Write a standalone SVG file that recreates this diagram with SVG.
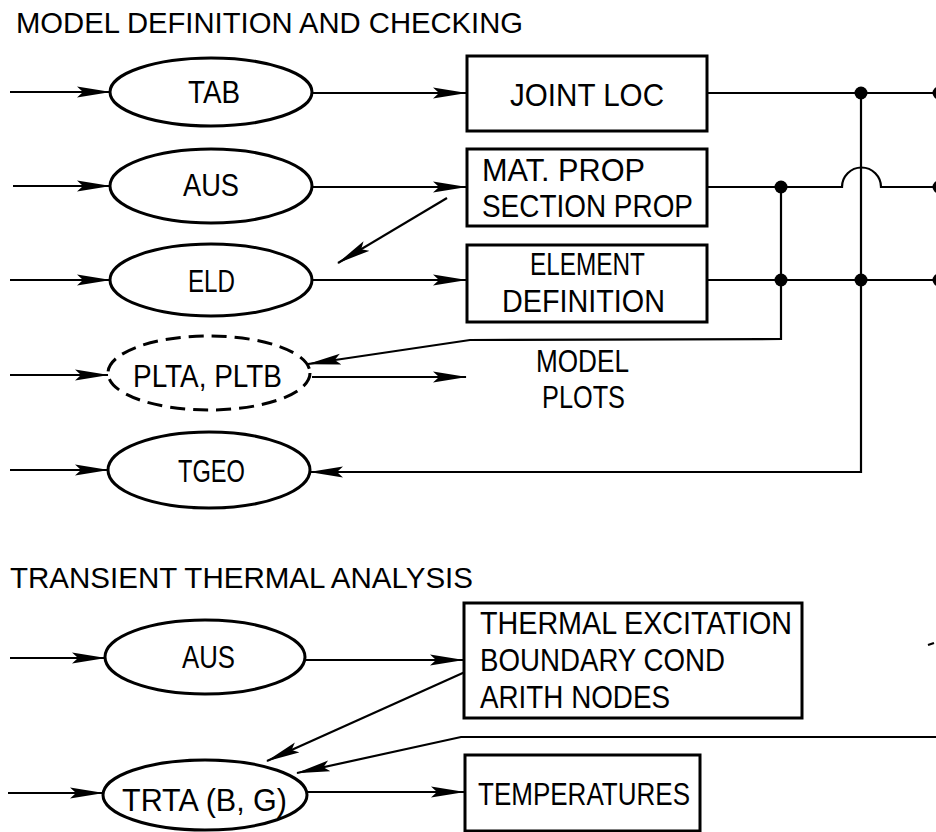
<svg xmlns="http://www.w3.org/2000/svg" width="936" height="832" viewBox="0 0 936 832">
<style>
text{font-family:"Liberation Sans",Arial,sans-serif;font-size:31px;fill:#000}
.title{font-size:29px}
.node{fill:#fff;stroke:#000;stroke-width:3}
.dash{stroke-dasharray:15 8}
.c{fill:none;stroke:#000;stroke-width:2.2}
.a{marker-end:url(#ah)}
.dot{fill:#000}
</style>
<defs>
<marker id="ah" viewBox="0 0 34 12" refX="33" refY="6" markerWidth="34" markerHeight="12" markerUnits="userSpaceOnUse" orient="auto">
<path d="M0,0.5 L34,6 L0,11.5 L6,6 z" fill="#000"/>
</marker>
</defs>
<text class="title" x="16" y="33" textLength="507" lengthAdjust="spacingAndGlyphs">MODEL DEFINITION AND CHECKING</text>
<text class="title" x="10" y="588" textLength="463" lengthAdjust="spacingAndGlyphs">TRANSIENT THERMAL ANALYSIS</text>

<g id="connectors">
<path class="c a" d="M10,92 L110,92"/>
<path class="c a" d="M312,93 L466,93"/>
<path class="c" d="M707,93 L936,93"/>
<path class="c a" d="M13,186 L110,186"/>
<path class="c a" d="M312,187 L466,187"/>
<path class="c" d="M707,187 H842 A19.5,19.5 0 0 1 881,187 H936"/>
<path class="c a" d="M10,280 L110,280"/>
<path class="c a" d="M312,280 L466,280"/>
<path class="c" d="M707,280 L936,280"/>
<path class="c a" d="M10,375 L108,375"/>
<path class="c a" d="M312,377 L466,377"/>
<path class="c a" d="M10,470 L108,470"/>
<path class="c a" d="M861,93 V472 H310"/>
<path class="c a" d="M781,187 V339 L470,340 L308,364"/>
<path class="c a" d="M447,198 L338,263"/>
<path class="c a" d="M10,658 L105,658"/>
<path class="c a" d="M305,660 L463,660"/>
<path class="c a" d="M465,672 L267,761"/>
<path class="c a" d="M936,737 L461,737 L297,773"/>
<path class="c a" d="M8,793 L103,793"/>
<path class="c a" d="M307,792 L464,792"/>
<path class="c" d="M928,645 L934,643"/>
<circle class="dot" cx="861" cy="93" r="6.5"/>
<circle class="dot" cx="781" cy="187" r="6.5"/>
<circle class="dot" cx="781" cy="280" r="6.5"/>
<circle class="dot" cx="861" cy="280" r="6.5"/>
<circle class="dot" cx="939" cy="93" r="6.5"/>
<circle class="dot" cx="939" cy="187" r="6.5"/>
<circle class="dot" cx="939" cy="280" r="6.5"/>
</g>

<g id="tab"><ellipse class="node" cx="211" cy="92" rx="101" ry="34"/><text x="188" y="103" textLength="52" lengthAdjust="spacingAndGlyphs">TAB</text></g>
<g id="aus1"><ellipse class="node" cx="211" cy="186" rx="101" ry="37"/><text x="183" y="196" textLength="56" lengthAdjust="spacingAndGlyphs">AUS</text></g>
<g id="eld"><ellipse class="node" cx="211" cy="280" rx="101" ry="36"/><text x="188" y="292" textLength="47" lengthAdjust="spacingAndGlyphs">ELD</text></g>
<g id="plta"><ellipse class="node dash" cx="209" cy="373" rx="101" ry="37"/><text x="133" y="387" textLength="149" lengthAdjust="spacingAndGlyphs">PLTA, PLTB</text></g>
<g id="tgeo"><ellipse class="node" cx="209" cy="470" rx="101" ry="38"/><text x="178" y="482" textLength="67" lengthAdjust="spacingAndGlyphs">TGEO</text></g>

<g id="jointloc"><rect class="node" x="467" y="56" width="240" height="75"/><text x="510" y="106" textLength="154" lengthAdjust="spacingAndGlyphs">JOINT LOC</text></g>
<g id="matprop"><rect class="node" x="467" y="149" width="240" height="77"/><text x="482" y="181" textLength="163" lengthAdjust="spacingAndGlyphs">MAT. PROP</text><text x="482" y="217" textLength="211" lengthAdjust="spacingAndGlyphs">SECTION PROP</text></g>
<g id="elemdef"><rect class="node" x="467" y="245" width="240" height="77"/><text x="530" y="275" textLength="115" lengthAdjust="spacingAndGlyphs">ELEMENT</text><text x="502" y="312" textLength="163" lengthAdjust="spacingAndGlyphs">DEFINITION</text></g>
<g id="modelplots"><text x="536" y="372" textLength="93" lengthAdjust="spacingAndGlyphs">MODEL</text><text x="542" y="408" textLength="83" lengthAdjust="spacingAndGlyphs">PLOTS</text></g>

<g id="aus2"><ellipse class="node" cx="205" cy="657" rx="100" ry="37"/><text x="182" y="668" textLength="53" lengthAdjust="spacingAndGlyphs">AUS</text></g>
<g id="thermal"><rect class="node" x="464" y="603" width="338" height="115"/><text x="480" y="634" textLength="312" lengthAdjust="spacingAndGlyphs">THERMAL EXCITATION</text><text x="480" y="671" textLength="245" lengthAdjust="spacingAndGlyphs">BOUNDARY COND</text><text x="480" y="708" textLength="190" lengthAdjust="spacingAndGlyphs">ARITH NODES</text></g>
<g id="trta"><ellipse class="node" cx="205" cy="795" rx="102" ry="35"/><text x="122" y="811" textLength="165" lengthAdjust="spacingAndGlyphs">TRTA (B, G)</text></g>
<g id="temps"><rect class="node" x="465" y="755" width="235" height="76"/><text x="478" y="805" textLength="212" lengthAdjust="spacingAndGlyphs">TEMPERATURES</text></g>
</svg>
